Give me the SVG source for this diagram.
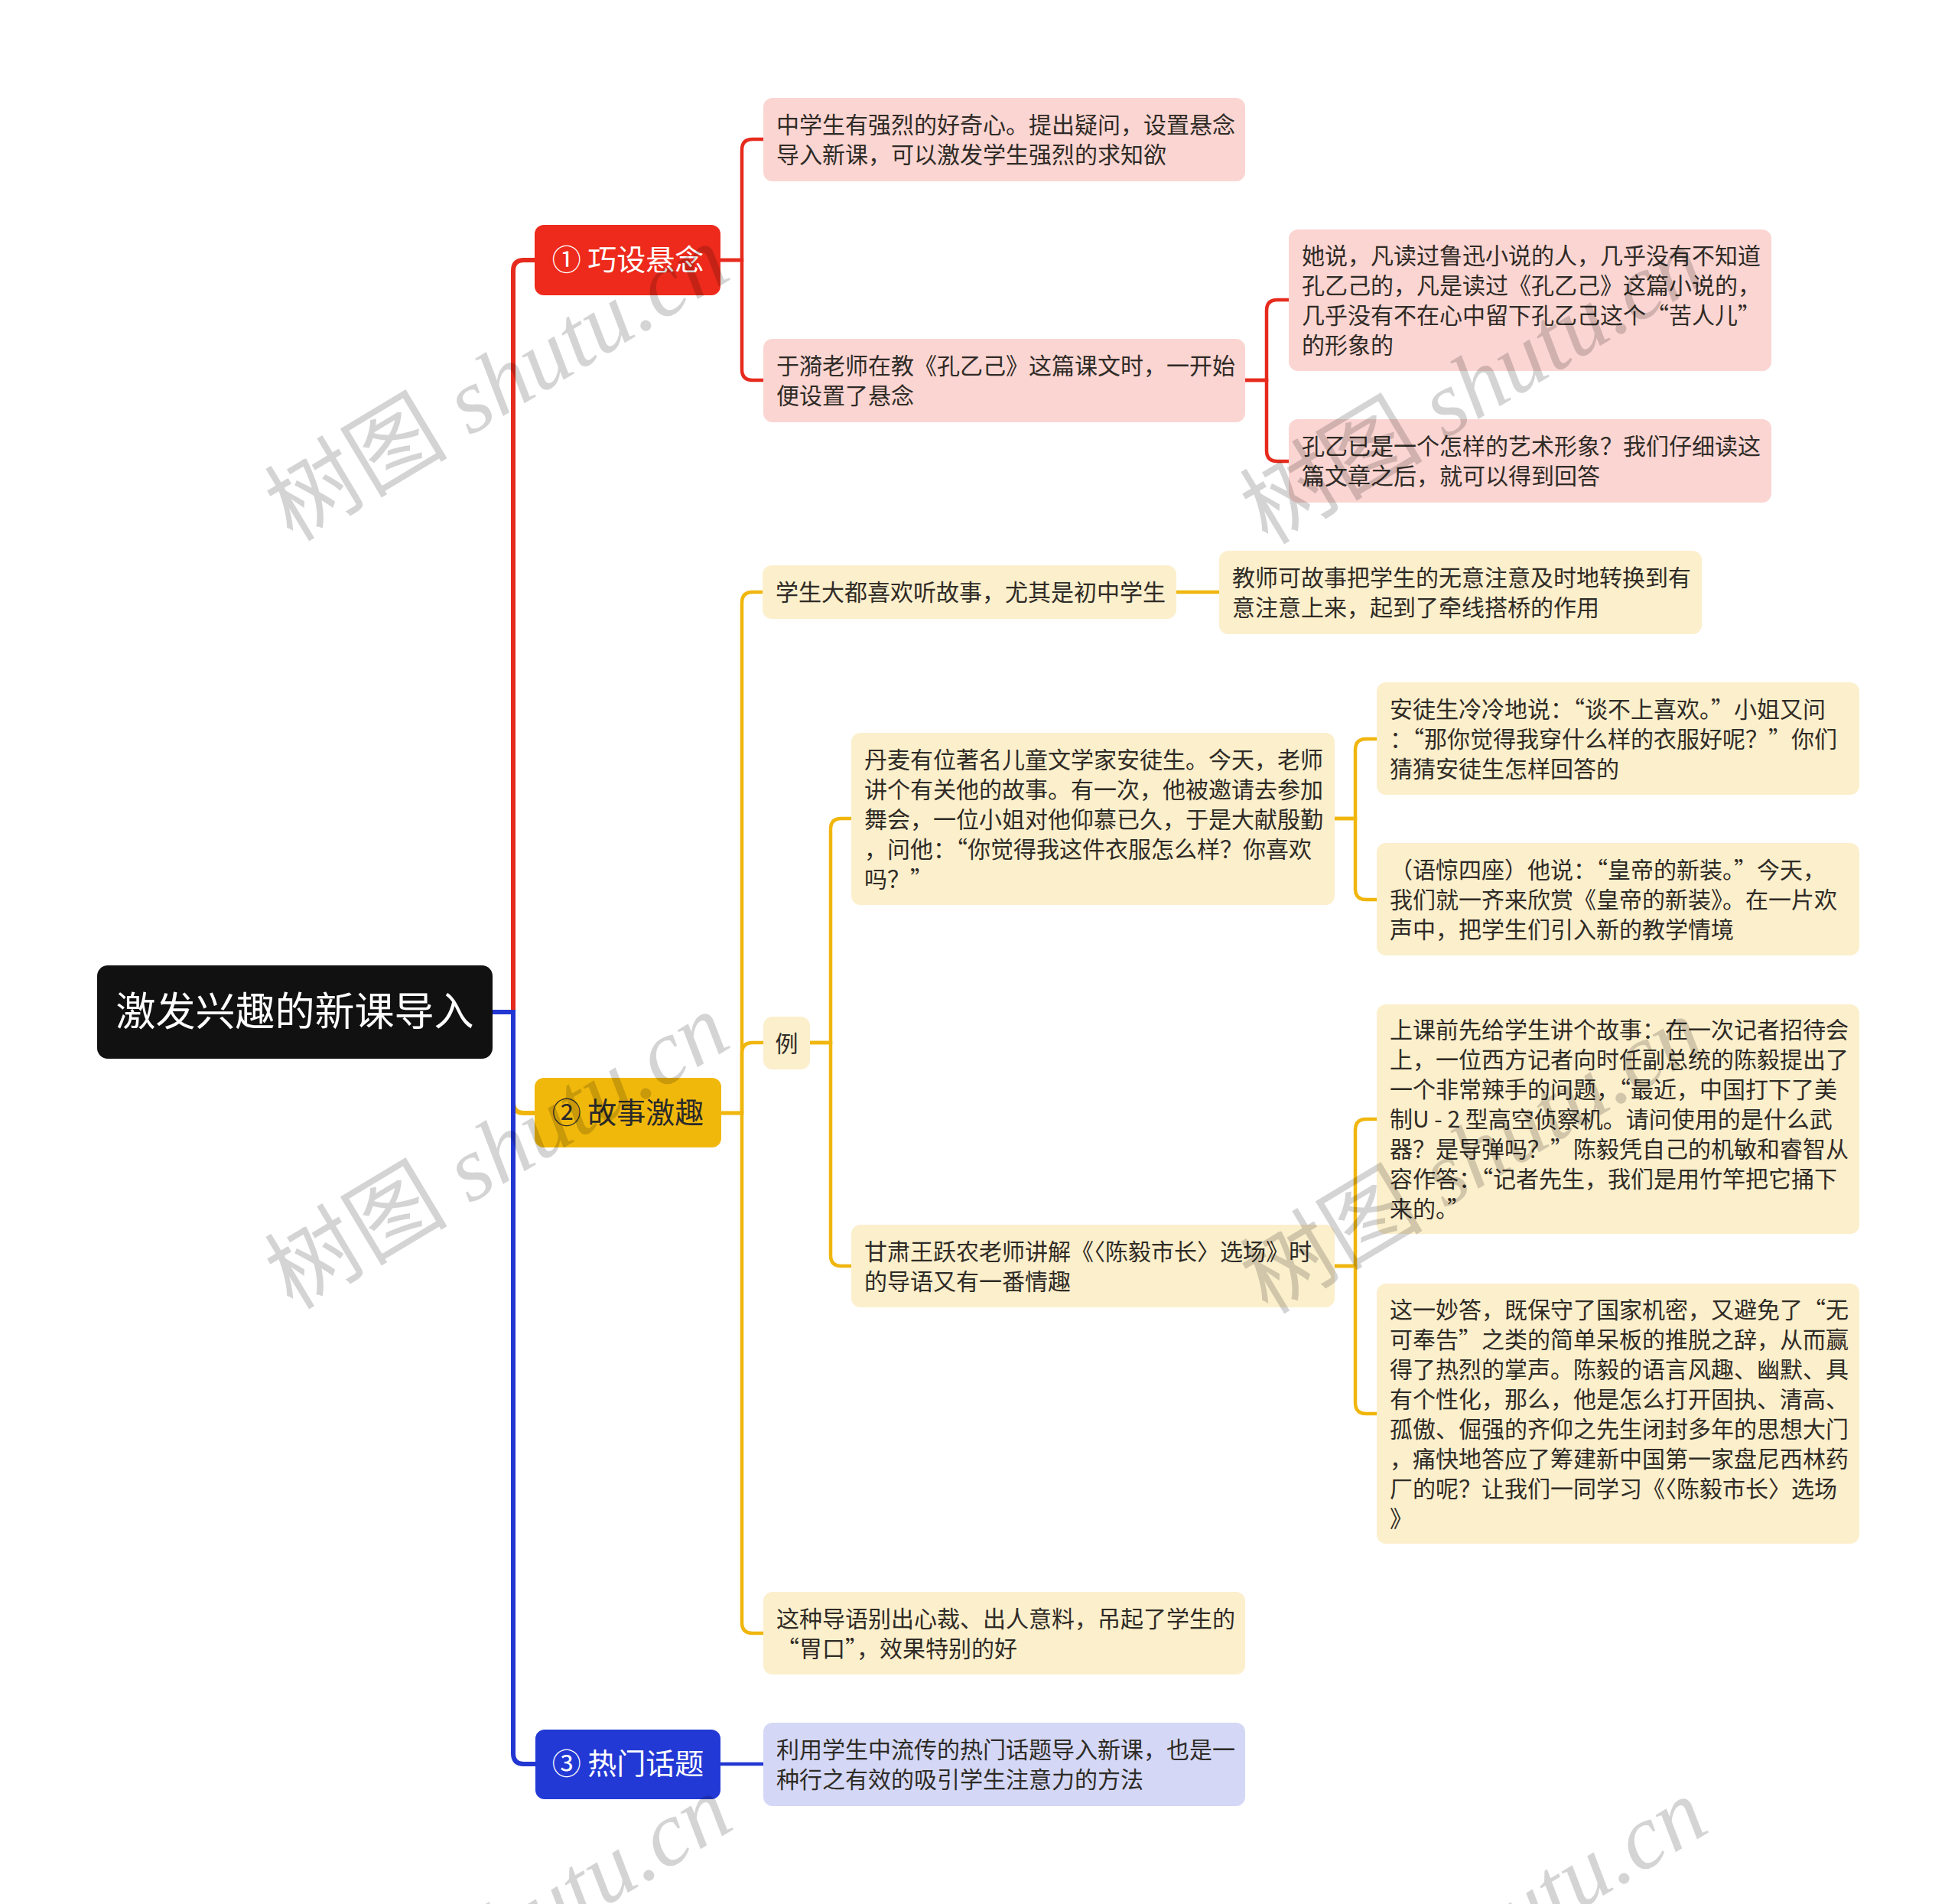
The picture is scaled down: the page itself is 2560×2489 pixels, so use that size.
<svg xmlns="http://www.w3.org/2000/svg" width="2560" height="2489" viewBox="0 0 2560 2489">
<style>
text{font-family:"Noto Sans CJK SC","Noto Sans",sans-serif;}
.t{font-size:30px;fill:#2f2b26;}
.br{font-size:38px;text-anchor:middle;}
.lr{fill:none;stroke:#E62B1E;stroke-width:4.5;}
.ly{fill:none;stroke:#F0B60E;stroke-width:4.5;}
.lb{fill:none;stroke:#2236D2;stroke-width:4.5;}
.root{stroke-width:6;}
.pink{fill:#FBD5D2;}
.yel{fill:#FCEFCC;}
.blu{fill:#D4D8F6;}
.wm{font-size:120px;fill:#000;fill-opacity:0.17;text-anchor:middle;}
.wl{font-family:"Liberation Serif",serif;font-style:italic;}
</style>
<rect width="2560" height="2489" fill="#ffffff"/>
<g id="connectors">
<path class="ly root" d="M644 1323 H671 V1441 Q671 1455 685 1455 H699"/>
<path class="lr root" d="M644 1323 H671 V354 Q671 340 685 340 H699"/>
<path class="lb root" d="M644 1323 H671 V2292 Q671 2306 685 2306 H700"/>
<path class="lr" d="M942 340 H970 V196 Q970 182 984 182 H998"/>
<path class="lr" d="M942 340 H970 V483 Q970 497 984 497 H998"/>
<path class="lr" d="M1628 497 H1656 V406 Q1656 392 1670 392 H1685"/>
<path class="lr" d="M1628 497 H1656 V589 Q1656 603 1670 603 H1685"/>
<path class="ly" d="M943 1455 H970 V788 Q970 774 984 774 H997"/>
<path class="ly" d="M943 1455 H970 V1377 Q970 1363 984 1363 H998"/>
<path class="ly" d="M943 1455 H970 V2121 Q970 2135 984 2135 H998"/>
<path class="ly" d="M1538 774 H1594"/>
<path class="ly" d="M1059 1363 H1086 V1084 Q1086 1070 1100 1070 H1113"/>
<path class="ly" d="M1059 1363 H1086 V1641 Q1086 1655 1100 1655 H1113"/>
<path class="ly" d="M1745 1070 H1772 V980 Q1772 966 1786 966 H1800"/>
<path class="ly" d="M1745 1070 H1772 V1162 Q1772 1176 1786 1176 H1800"/>
<path class="ly" d="M1745 1655 H1772 V1477 Q1772 1463 1786 1463 H1800"/>
<path class="ly" d="M1745 1655 H1772 V1834 Q1772 1848 1786 1848 H1800"/>
<path class="lb" d="M942 2306 H998"/>
</g>
<g id="root">
<rect x="127" y="1262" width="517" height="122" rx="14" fill="#111111"/>
<text x="385.5" y="1341" font-size="52" fill="#ffffff" text-anchor="middle">激发兴趣的新课导入</text>
</g>
<g id="b1">
<rect x="699" y="294" width="243" height="92" rx="12" fill="#ED2A1B"/>
<text class="br" x="821" y="353" fill="#ffffff">① 巧设悬念</text>
</g>
<g id="b2">
<rect x="699" y="1409" width="244" height="91" rx="12" fill="#F1B80C"/>
<text class="br" x="821" y="1468" fill="#2a2a2a">② 故事激趣</text>
</g>
<g id="b3">
<rect x="700" y="2261" width="242" height="91" rx="12" fill="#2339D5"/>
<text class="br" x="821" y="2319" fill="#ffffff">③ 热门话题</text>
</g>
<g id="c1a">
<rect class="pink" x="998" y="128" width="630" height="109" rx="12"/>
<text class="t"><tspan x="1015" y="174">中学生有强烈的好奇心。提出疑问，设置悬念</tspan><tspan x="1015" y="213">导入新课，可以激发学生强烈的求知欲</tspan></text>
</g>
<g id="c1b">
<rect class="pink" x="998" y="443" width="630" height="109" rx="12"/>
<text class="t"><tspan x="1015" y="489">于漪老师在教《孔乙己》这篇课文时，一开始</tspan><tspan x="1015" y="528">便设置了悬念</tspan></text>
</g>
<g id="c2a">
<rect class="pink" x="1685" y="300" width="631" height="185" rx="12"/>
<text class="t"><tspan x="1702" y="345">她说，凡读过鲁迅小说的人，几乎没有不知道</tspan><tspan x="1702" y="384">孔乙己的，凡是读过《孔乙己》这篇小说的，</tspan><tspan x="1702" y="423">几乎没有不在心中留下孔乙己这个“苦人儿”</tspan><tspan x="1702" y="462">的形象的</tspan></text>
</g>
<g id="c2b">
<rect class="pink" x="1685" y="548" width="631" height="109" rx="12"/>
<text class="t"><tspan x="1702" y="594">孔乙已是一个怎样的艺术形象？我们仔细读这</tspan><tspan x="1702" y="633">篇文章之后，就可以得到回答</tspan></text>
</g>
<g id="b2a">
<rect class="yel" x="997" y="739" width="541" height="70" rx="12"/>
<text class="t" x="1014" y="785">学生大都喜欢听故事，尤其是初中学生</text>
</g>
<g id="b2a1">
<rect class="yel" x="1594" y="720" width="631" height="109" rx="12"/>
<text class="t"><tspan x="1611" y="766">教师可故事把学生的无意注意及时地转换到有</tspan><tspan x="1611" y="805">意注意上来，起到了牵线搭桥的作用</tspan></text>
</g>
<g id="li">
<rect class="yel" x="998" y="1329" width="61" height="69" rx="12"/>
<text class="t" x="1028.5" y="1374.5" text-anchor="middle">例</text>
</g>
<g id="dane">
<rect class="yel" x="1113" y="958" width="632" height="225" rx="12"/>
<text class="t"><tspan x="1130" y="1003.5">丹麦有位著名儿童文学家安徒生。今天，老师</tspan><tspan x="1130" y="1042.5">讲个有关他的故事。有一次，他被邀请去参加</tspan><tspan x="1130" y="1081.5">舞会，一位小姐对他仰慕已久，于是大献殷勤</tspan><tspan x="1130" y="1120.5">，问他：“你觉得我这件衣服怎么样？你喜欢</tspan><tspan x="1130" y="1159.5">吗？”</tspan></text>
</g>
<g id="d1">
<rect class="yel" x="1800" y="892" width="631" height="147" rx="12"/>
<text class="t"><tspan x="1817" y="937.5">安徒生冷冷地说：“谈不上喜欢。”小姐又问</tspan><tspan x="1817" y="976.5">：“那你觉得我穿什么样的衣服好呢？”你们</tspan><tspan x="1817" y="1015.5">猜猜安徒生怎样回答的</tspan></text>
</g>
<g id="d2">
<rect class="yel" x="1800" y="1102" width="631" height="147" rx="12"/>
<text class="t"><tspan x="1817" y="1147.5">（语惊四座）他说：“皇帝的新装。”今天，</tspan><tspan x="1817" y="1186.5">我们就一齐来欣赏《皇帝的新装》。在一片欢</tspan><tspan x="1817" y="1225.5">声中，把学生们引入新的教学情境</tspan></text>
</g>
<g id="gansu">
<rect class="yel" x="1113" y="1601" width="632" height="108" rx="12"/>
<text class="t"><tspan x="1130" y="1646.5">甘肃王跃农老师讲解《〈陈毅市长〉选场》时</tspan><tspan x="1130" y="1685.5">的导语又有一番情趣</tspan></text>
</g>
<g id="chen1">
<rect class="yel" x="1800" y="1313" width="631" height="300" rx="12"/>
<text class="t"><tspan x="1817" y="1357">上课前先给学生讲个故事：在一次记者招待会</tspan><tspan x="1817" y="1396">上，一位西方记者向时任副总统的陈毅提出了</tspan><tspan x="1817" y="1435">一个非常辣手的问题，“最近，中国打下了美</tspan><tspan x="1817" y="1474" xml:space="preserve">制U - 2 型高空侦察机。请问使用的是什么武</tspan><tspan x="1817" y="1513">器？是导弹吗？”陈毅凭自己的机敏和睿智从</tspan><tspan x="1817" y="1552">容作答：“记者先生，我们是用竹竿把它捅下</tspan><tspan x="1817" y="1591">来的。”</tspan></text>
</g>
<g id="chen2">
<rect class="yel" x="1800" y="1678" width="631" height="340" rx="12"/>
<text class="t"><tspan x="1817" y="1722.5">这一妙答，既保守了国家机密，又避免了“无</tspan><tspan x="1817" y="1761.5">可奉告”之类的简单呆板的推脱之辞，从而赢</tspan><tspan x="1817" y="1800.5">得了热烈的掌声。陈毅的语言风趣、幽默、具</tspan><tspan x="1817" y="1839.5">有个性化，那么，他是怎么打开固执、清高、</tspan><tspan x="1817" y="1878.5">孤傲、倔强的齐仰之先生闭封多年的思想大门</tspan><tspan x="1817" y="1917.5">，痛快地答应了筹建新中国第一家盘尼西林药</tspan><tspan x="1817" y="1956.5">厂的呢？让我们一同学习《〈陈毅市长〉选场</tspan><tspan x="1817" y="1995.5">》</tspan></text>
</g>
<g id="b2d">
<rect class="yel" x="998" y="2081" width="630" height="108" rx="12"/>
<text class="t"><tspan x="1015" y="2126.5">这种导语别出心裁、出人意料，吊起了学生的</tspan><tspan x="1015" y="2165.5">“胃口”，效果特别的好</tspan></text>
</g>
<g id="b3c">
<rect class="blu" x="998" y="2252" width="630" height="109" rx="12"/>
<text class="t"><tspan x="1015" y="2298">利用学生中流传的热门话题导入新课，也是一</tspan><tspan x="1015" y="2337">种行之有效的吸引学生注意力的方法</tspan></text>
</g>
<g id="watermarks">
<text class="wm" transform="translate(671,536) rotate(-31)">树图<tspan class="wl"> shutu.cn</tspan></text>
<text class="wm" transform="translate(1946,540) rotate(-31)">树图<tspan class="wl"> shutu.cn</tspan></text>
<text class="wm" transform="translate(671,1540) rotate(-31)">树图<tspan class="wl"> shutu.cn</tspan></text>
<text class="wm" transform="translate(1946,1546) rotate(-31)">树图<tspan class="wl"> shutu.cn</tspan></text>
<text class="wm" transform="translate(675,2562) rotate(-31)">树图<tspan class="wl"> shutu.cn</tspan></text>
<text class="wm" transform="translate(1950,2566) rotate(-31)">树图<tspan class="wl"> shutu.cn</tspan></text>
</g>
</svg>
